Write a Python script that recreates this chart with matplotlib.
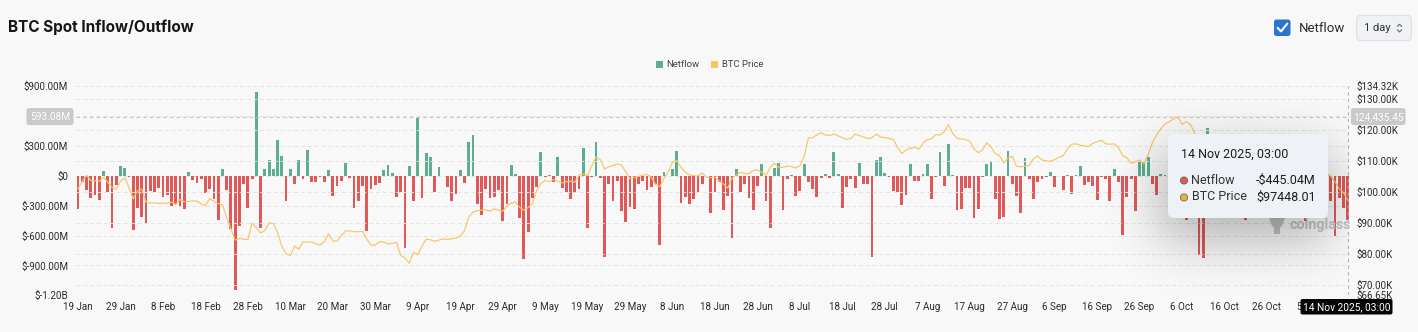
import math
import numpy as np
import pandas as pd
import matplotlib
matplotlib.use("Agg")
import matplotlib.pyplot as plt
from matplotlib.patches import FancyBboxPatch, Rectangle, Circle, Polygon

# ---------------------------------------------------------------- data
start_date = "2025-01-19"

# daily spot netflow, $M
netflow = [
    -337, -67, -145, -222, -189, -240, 47, -162, -522, -95,
    98, 74, -17, -540, -320, -415, -475, -152, -168, -121,
    -212, -195, -307, -280, -300, -330, 40, -40, -70, -37,
    -178, -138, -229, -448, 64, -145, -532, -1150, -505, -88,
    -320, -37, 839, -525, 64, 158, 64, 360, 199, -256,
    71, -88, 158, -37, 259, -67, -61, -17, -61, 61,
    -202, -101, -50, 125, -27, -323, -253, -104, -556, -135,
    -94, -78, 57, 108, 27, -212, -168, -725, 98, -256,
    576, -222, 226, 192, -162, 84, 0, -111, -253, -185,
    57, -78, 337, 411, -280, -391, -135, -219, -212, -145,
    -455, -280, 108, 17, -425, -836, -566, -219, -111, 233,
    -10, 10, -61, 185, -121, -168, -233, -172, -135, 276,
    -525, -17, 340, -20, -812, -84, -256, -50, -357, -465,
    -313, -337, -88, -54, -145, -118, -84, -694, 40, 0,
    67, 249, -270, -212, -280, -229, -162, -84, -5, -371,
    -168, -61, -347, -202, -623, 71, -168, -88, -219, -347,
    -101, 115, -256, -522, 74, 125, -347, -37, 7, -202,
    -152, 118, -61, -138, -212, -27, 17, -27, 236, 13,
    -320, -111, -34, -121, 125, -84, -88, -819, 158, 192,
    30, -17, -152, -168, -290, -189, 115, -54, -54, 13,
    118, -229, -17, 236, -104, 320, 10, -347, -330, -121,
    -128, -421, -330, -17, 115, 135, -229, -438, -415, 243,
    -88, -206, -371, 175, -37, -229, -61, -34, -17, 34,
    -118, -8, -145, 10, -185, 10, 98, -94, -67, -101,
    -246, -17, -34, -253, 67, -67, -593, -212, -34, -357,
    135, 135, 192, -86, -189, 15, 10, -127, -150, -80,
    -210, -445, -120, -260, -800, -825, 478, -180, -95, 60,
    -230, -140, -60, -310, -175, -440, -90, 45, -200, -130,
    -70, -260, -150, 80, -110, -190, -40, -280, -150, -455,
    -120, -60, -210, -300, -180, -250, -602, -224, -324, -445.04,
]

# daily BTC price, $K
btc_price = [
    101.1, 103.5, 105.5, 103.8, 103.6, 103.5, 104.8, 103.2, 101.6, 100.9,
    103.5, 104.6, 101.5, 97.8, 100.5, 101.0, 96.8, 96.5, 96.5, 96.4,
    96.4, 96.4, 96.8, 96.0, 97.6, 96.9, 97.0, 97.2, 97.1, 96.2,
    95.7, 97.9, 97.0, 96.3, 96.0, 91.8, 88.0, 84.5, 85.0, 84.8,
    84.7, 90.0, 88.5, 86.8, 87.6, 90.0, 89.9, 87.0, 82.5, 80.1,
    79.5, 82.6, 81.6, 84.0, 83.8, 83.9, 83.3, 82.9, 84.0, 86.5,
    84.2, 84.2, 86.0, 87.4, 87.5, 87.2, 87.2, 87.3, 84.8, 82.8,
    82.9, 84.0, 83.8, 83.3, 83.4, 83.8, 79.5, 78.8, 77.0, 80.5,
    79.8, 82.5, 84.8, 84.6, 84.1, 84.5, 84.9, 84.7, 84.9, 85.2,
    85.8, 87.5, 92.0, 93.5, 94.0, 94.2, 94.3, 93.9, 94.6, 94.2,
    93.8, 95.5, 96.5, 96.8, 95.0, 94.2, 95.0, 96.2, 100.5, 102.8,
    103.8, 103.4, 104.0, 103.6, 103.0, 103.4, 103.5, 103.2, 105.5, 105.8,
    105.4, 108.5, 111.3, 110.5, 107.5, 108.2, 108.6, 109.1, 108.7, 106.6,
    104.3, 104.8, 105.1, 105.5, 105.7, 104.9, 102.5, 101.8, 104.5, 106.5,
    109.7, 110.2, 108.0, 106.5, 105.5, 105.4, 105.2, 106.2, 104.8, 104.7,
    104.8, 103.6, 102.6, 101.3, 104.5, 105.5, 106.4, 106.0, 106.0, 107.0,
    107.2, 106.5, 105.5, 108.0, 109.3, 108.0, 108.0, 108.4, 108.3, 107.8,
    108.5, 111.5, 117.5, 117.6, 118.5, 119.2, 118.5, 118.3, 118.8, 118.2,
    117.6, 117.1, 117.3, 118.8, 118.3, 117.8, 117.3, 117.6, 118.8, 117.8,
    117.6, 117.4, 117.0, 114.5, 112.5, 113.6, 114.2, 114.5, 113.9, 115.8,
    117.0, 117.3, 118.6, 118.5, 119.5, 121.8, 119.0, 117.4, 117.2, 117.0,
    116.5, 114.0, 112.8, 113.6, 116.0, 114.6, 112.5, 111.8, 109.5, 111.0,
    111.6, 108.4, 108.2, 108.4, 108.6, 110.8, 111.7, 110.4, 110.1, 110.0,
    110.5, 111.3, 111.7, 114.0, 115.5, 115.6, 115.2, 114.9, 114.8, 115.8,
    116.3, 116.8, 115.6, 115.5, 115.6, 114.5, 111.8, 111.2, 109.3, 109.8,
    110.4, 109.2, 112.0, 116.0, 118.5, 120.5, 122.0, 122.8, 123.7, 124.3,
    122.0, 122.8, 121.8, 119.0, 113.0, 110.5, 114.5, 115.2, 113.0, 110.8,
    108.2, 106.5, 107.2, 108.6, 110.5, 108.4, 107.5, 110.1, 111.0, 111.6,
    114.5, 114.1, 112.9, 110.0, 108.3, 109.6, 110.1, 110.6, 106.5, 101.5,
    103.9, 101.3, 103.3, 102.3, 106.0, 105.2, 103.3, 101.2, 99.8, 97.44801,
]

netflow_ticks = [-1200, -900, -600, -300, 0, 300, 600, 900]
price_ticks = [66.65, 70, 80, 90, 100, 110, 120, 130, 134.32]
price_grid = [70, 80, 90, 100, 110, 120, 130]
cursor_netflow = 593.08
cursor_price = "124,435.45"
hover_time = "14 Nov 2025, 03:00"

# ---------------------------------------------------------------- style
BG = "#f8f8f8"
GREEN = "#5cae8e"
RED = "#e05858"
GOLD = "#f6c663"
TXT = "#2b2b2b"
GRID = "#e3e3e3"

plt.rcParams["font.family"] = ["Roboto", "DejaVu Sans"]

W, H = 1418, 332
fig = plt.figure(figsize=(W / 100, H / 100), dpi=100, facecolor=BG)


def px_rect(l, t, r, b):
    return [l / W, 1 - b / H, (r - l) / W, (b - t) / H]


PL, PT, PR, PB = 75.9, 86.0, 1349.8, 295.3
ax = fig.add_axes(px_rect(PL, PT, PR, PB))
ax.set_facecolor(BG)

n = len(netflow)
days = np.arange(n)
dates = pd.date_range(start_date, periods=n, freq="D")
vals = np.array(netflow, dtype=float)
colors = [GREEN if v >= 0 else RED for v in vals]

lo_n, hi_n = netflow_ticks[0], netflow_ticks[-1]
lo_p, hi_p = price_ticks[0], price_ticks[-1]

for t in netflow_ticks:
    ax.axhline(t, color=GRID, lw=0.7, ls=(0, (4, 3)), zorder=0)

ax.bar(days, vals, width=0.66, color=colors, zorder=2, linewidth=0)
ax.set_xlim(-0.5, n - 0.5)
ax.set_ylim(lo_n, hi_n)


def fmt_flow(v):
    if v == 0:
        return "$0"
    if abs(v) >= 1000:
        return f"${v / 1000:.2f}B"
    return f"${v:.2f}M"


# the cursor badge sits on top of the nearest tick label, so that one stays blank
ax.set_yticks(netflow_ticks)
ax.set_yticklabels(["" if abs(v - cursor_netflow) < 100 else fmt_flow(v)
                    for v in netflow_ticks])
tick_idx = list(range(0, n, 10))
ax.set_xticks(tick_idx)
ax.set_xticklabels([f"{dates[i].day} {dates[i].strftime('%b')}" for i in tick_idx])
ax.tick_params(axis="both", length=0, labelsize=7.1, colors=TXT)
ax.tick_params(axis="y", pad=5.5)
ax.tick_params(axis="x", pad=4.5)
for s in ax.spines.values():
    s.set_visible(False)

ax2 = ax.twinx()
for t in price_grid:
    ax2.axhline(t, color=GRID, lw=0.7, ls=(0, (4, 3)), zorder=0)
ax2.plot(days, btc_price, color=GOLD, lw=0.85, zorder=3)
ax2.set_ylim(lo_p, hi_p)
ax2.set_yticks(price_ticks)
ax2.set_yticklabels([f"${v:.2f}K" for v in price_ticks])
ax2.tick_params(axis="y", length=0, labelsize=7.1, colors=TXT, pad=4.5)
for s in ax2.spines.values():
    s.set_visible(False)

# crosshair
ax2.axvline(n - 1, color="#b5b5b5", lw=0.8, ls=(0, (3, 3)), zorder=4)
ax.axhline(cursor_netflow, color="#c4c4c4", lw=0.8, ls=(0, (3, 3)), zorder=4)

# ---------------------------------------------------------------- overlay (pixel space)
ov = fig.add_axes([0, 0, 1, 1], zorder=10)
ov.set_xlim(0, W)
ov.set_ylim(H, 0)
ov.axis("off")
ov.patch.set_alpha(0)


def rbox(x0, y0, x1, y1, fc, ec="none", r=4, lw=0.8, z=5):
    p = FancyBboxPatch((x0, y0), x1 - x0, y1 - y0,
                       boxstyle=f"round,pad=0,rounding_size={r}",
                       fc=fc, ec=ec, lw=lw, zorder=z)
    ov.add_patch(p)
    return p


def label(x, y, s, z=9, **kw):
    kw.setdefault("va", "center")
    kw.setdefault("ha", "left")
    return ov.text(x, y, s, zorder=z, **kw)


# title
label(8, 27, "BTC Spot Inflow/Outflow", fontsize=11, fontweight="bold",
      family=["Inter", "DejaVu Sans"], color="#151515")

# checkbox + dropdown
rbox(1274, 19.5, 1290.5, 36, "#2a74d1", r=2.5)
ov.plot([1277.6, 1281, 1287.3], [27.8, 31.4, 23.6], color="white", lw=1.5,
        solid_capstyle="round", solid_joinstyle="round", zorder=6)
label(1298.5, 28, "Netflow", fontsize=9.5, color=TXT)
rbox(1356.5, 15.5, 1411.5, 40.5, "#eff1f4", ec="#dde1e6", r=4)
label(1364, 28.3, "1 day", fontsize=8, color="#333333")
ov.plot([1397.5, 1399.5, 1401.5], [26.3, 24.3, 26.3], color="#666666", lw=0.8, zorder=6)
ov.plot([1397.5, 1399.5, 1401.5], [30.0, 32.0, 30.0], color="#666666", lw=0.8, zorder=6)

# legend
ov.add_patch(Rectangle((655.5, 60.5), 7, 7, fc=GREEN, ec="none"))
label(666.5, 64.2, "Netflow", fontsize=6.8, color="#444444")
ov.add_patch(Rectangle((711, 60.5), 7, 7, fc=GOLD, ec="none"))
label(722, 64.2, "BTC Price", fontsize=6.8, color="#444444")

# watermark
ov.add_patch(Polygon([[1269, 217], [1285, 217], [1283, 224], [1280, 228], [1280, 234],
                      [1274, 234], [1274, 228], [1271, 224]],
                     closed=True, fc="#c2c2c2", ec="none", zorder=4))
label(1289, 225, "coinglass", z=4, fontsize=10.3, fontweight="bold", color="#c4c4c4")

# tooltip shadow
sx0, sy0, sx1, sy1 = 1160, 150, 1330, 240
sig = 26.0
xs = np.arange(1030, int(PR)) + 0.5
ys = np.arange(int(PT), int(PB)) + 0.5
erf = np.vectorize(math.erf)
k = sig * math.sqrt(2)
fx = 0.5 * (erf((xs - sx0) / k) - erf((xs - sx1) / k))
fy = 0.5 * (erf((ys - sy0) / k) - erf((ys - sy1) / k))
shadow = np.zeros((len(ys), len(xs), 4))
shadow[..., 3] = 0.28 * np.outer(fy, fx)
ov.imshow(shadow, extent=(xs[0] - 0.5, xs[-1] + 0.5, ys[-1] + 0.5, ys[0] - 0.5),
          origin="upper", interpolation="bilinear", aspect="auto", zorder=7)
ov.set_xlim(0, W)
ov.set_ylim(H, 0)

# tooltip
rbox(1168, 134, 1328, 218, "#eef1f5", r=6, z=8)
last_flow = netflow[-1]
last_price = btc_price[-1] * 1000
label(1181, 154.5, hover_time, fontsize=9, color="#1c1c1c")
flow_col = GREEN if last_flow >= 0 else RED
ov.add_patch(Circle((1184, 180.5), 3.6, fc=flow_col, ec="#555555", lw=0.5, zorder=9))
ov.add_patch(Circle((1184, 197.5), 3.6, fc="#e7b23c", ec="#555555", lw=0.5, zorder=9))
label(1191.5, 180, "Netflow", fontsize=9, color="#333333")
label(1191.5, 197, "BTC Price", fontsize=9, color="#333333")
sign = "-" if last_flow < 0 else ""
label(1316, 180, f"{sign}${abs(last_flow):.2f}M", fontsize=9, color="#1c1c1c", ha="right")
label(1316, 197, f"${last_price:.2f}", fontsize=9, color="#1c1c1c", ha="right")

# crosshair labels
cy = PB - (cursor_netflow - lo_n) / (hi_n - lo_n) * (PB - PT)
rbox(26.5, cy - 8.5, 73.5, cy + 8.5, "#c9c9c9", r=2.5, z=8)
label(50, cy + 0.3, f"{cursor_netflow:.2f}M", fontsize=7.3, color="white", ha="center")
rbox(1351, cy - 8.5, 1405.5, cy + 8.5, "#c9c9c9", r=2.5, z=8)
label(1378.3, cy + 0.3, cursor_price, fontsize=7.3, color="white", ha="center")
rbox(1300.5, 299, 1392.5, 314.5, "#050505", r=2, z=8)
label(1346.5, 306.8, hover_time, fontsize=7.3, color="white", ha="center")

fig.savefig("out.png", dpi=100, facecolor=BG)
